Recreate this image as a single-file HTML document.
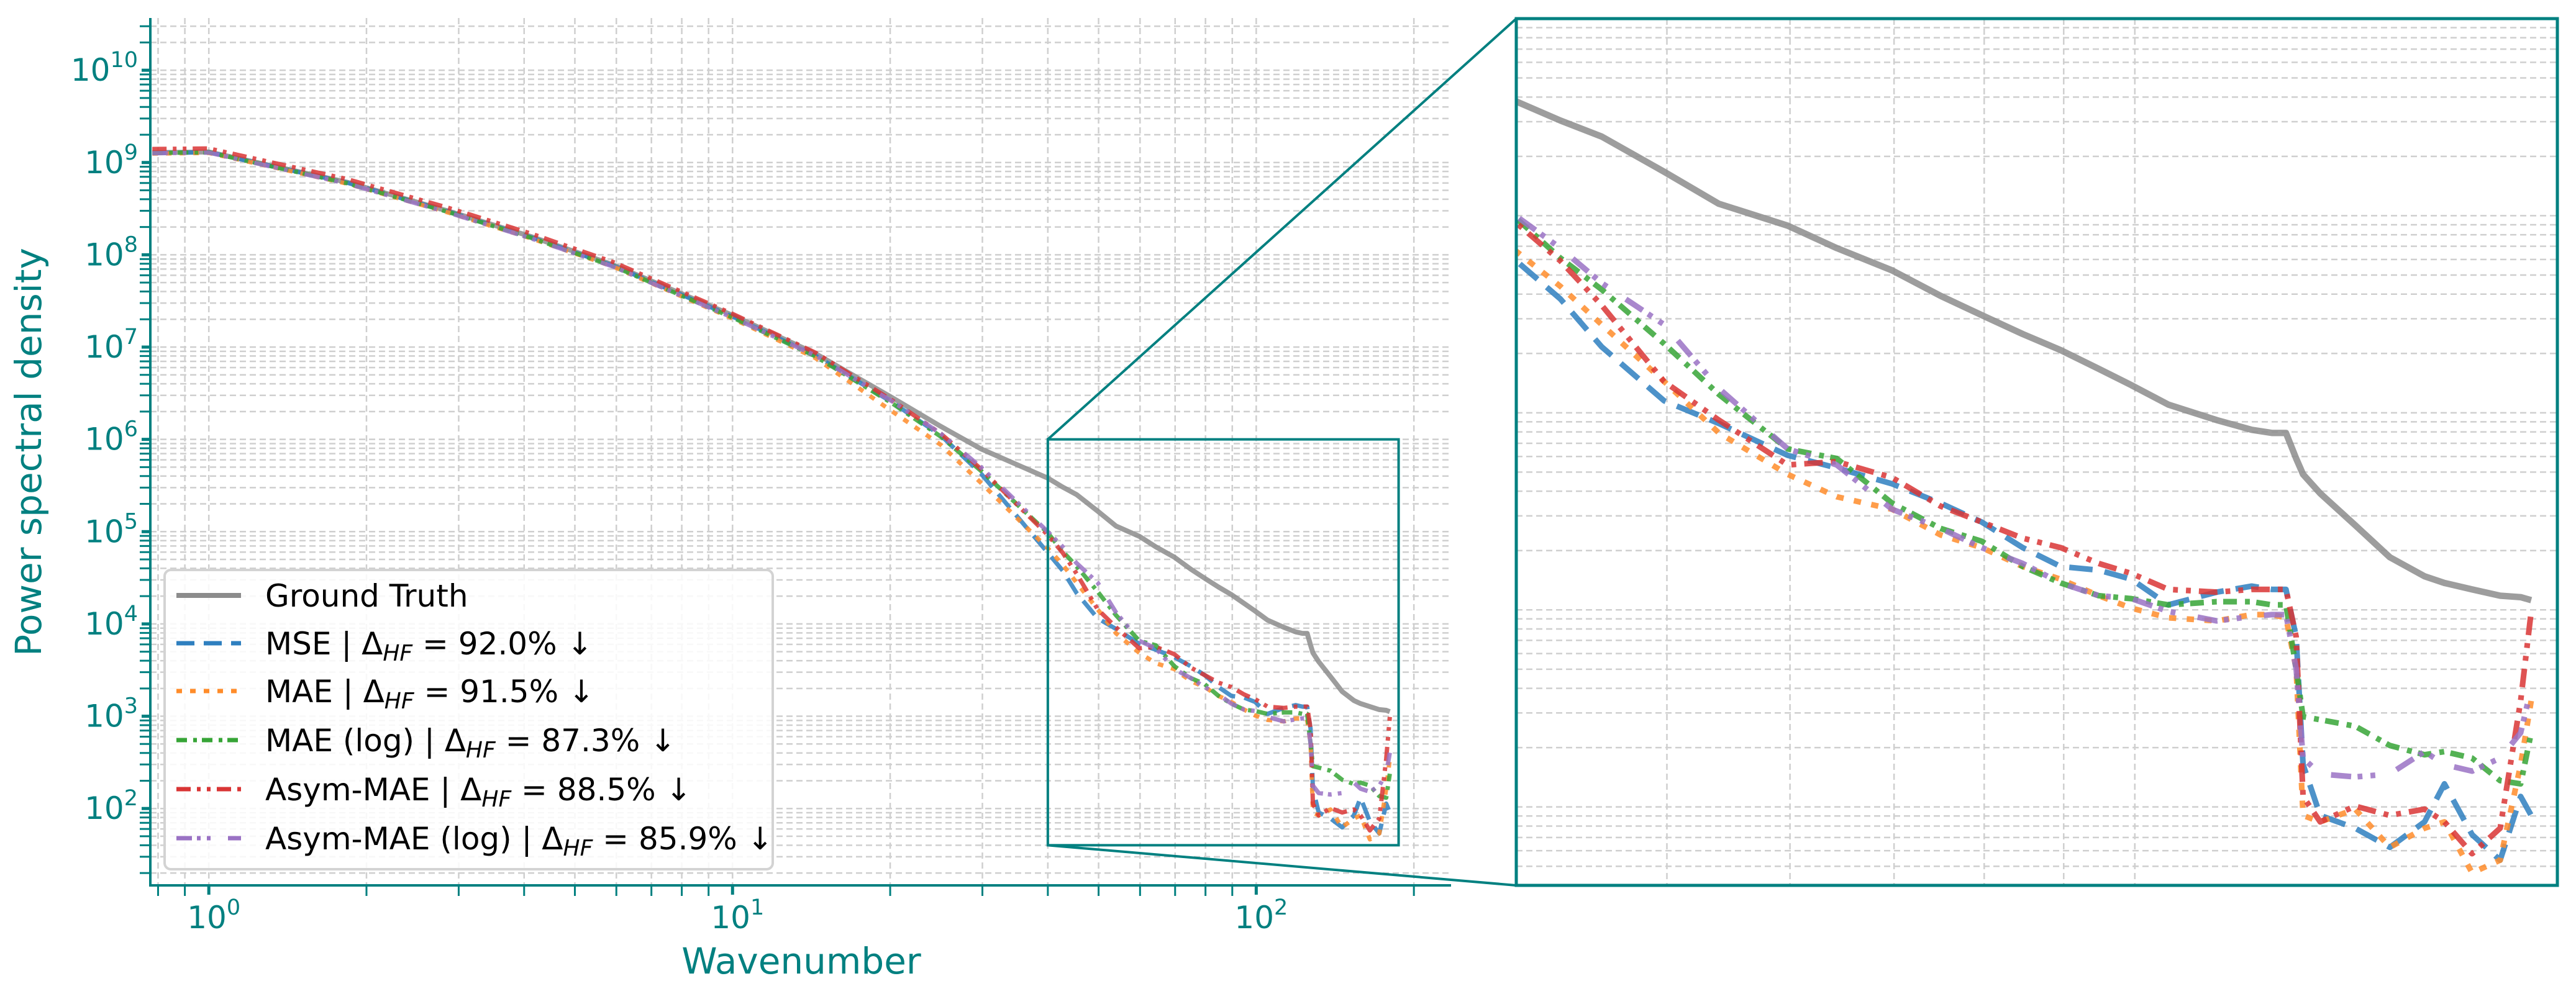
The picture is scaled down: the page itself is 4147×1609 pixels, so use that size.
<!DOCTYPE html>
<html><head><meta charset="utf-8">
<style>
html,body{margin:0;padding:0;background:#fff;}
svg{display:block;font-family:"DejaVu Sans","Liberation Sans",sans-serif;}
</style></head>
<body>
<svg id="chart" width="4147" height="1609" viewBox="0 0 4147 1609" xmlns="http://www.w3.org/2000/svg">
<defs>
<clipPath id="clipMain"><rect x="242" y="29" width="2094" height="1397"/></clipPath>
<clipPath id="clipInset"><rect x="2441" y="30" width="1676" height="1396"/></clipPath>
</defs>
<g id="gridMain"></g>
<g id="gridInset"></g>
<g id="linesMain" clip-path="url(#clipMain)"></g>
<g id="linesInset" clip-path="url(#clipInset)"></g>
<g id="axes"></g>
<g id="legend"></g>
<text x="1290" y="1568" font-size="58" fill="#008080" text-anchor="middle">Wavenumber</text>
<text x="0" y="0" font-size="58" fill="#008080" text-anchor="middle" transform="translate(66,728) rotate(-90)">Power spectral density</text>
</svg>
<script>
// ---- data ----
const wavenumbers = [0.78,1,1.84,2.86,4.12,5.93,10,14.4,20.2,25,29.8,
 40,42.7,45.4,49.8,54,59.8,64.3,69.8,75,79.7,84.7,89.6,94.8,99.5,105.1,112.9,118.9,122.5,125.1,127,128.3,131.6,138.6,145.9,153.6,158.2,164.8,171.8,177.1,179.9];
const groundTruth = [1.28e9,1.3e9,6.1e8,2.99e8,1.58e8,7.76e7,2.21e7,8.5e6,2.82e6,1.38e6,7.9e5,
 3.8e5,3.04e5,2.52e5,1.67e5,1.15e5,8.9e4,6.85e4,5.28e4,3.92e4,3.13e4,2.51e4,2.08e4,1.67e4,1.38e4,1.10e4,9.18e3,8.2e3,7.9e3,7.9e3,5.86e3,4.87e3,3.9e3,2.69e3,1.85e3,1.48e3,1.37e3,1.27e3,1.18e3,1.16e3,1.12e3];
const mseValues = [1.27e9,1.29e9,6.03e8,2.95e8,1.55e8,7.59e7,2.14e7,8.1e6,2.51e6,1.1e6,4.27e5,
 5.9e4,3.78e4,2.16e4,1.15e4,8.83e3,6.08e3,5.25e3,4.36e3,3.48e3,2.79e3,2.07e3,1.66e3,1.59e3,1.43e3,1.06e3,1.23e3,1.32e3,1.27e3,1.27e3,730,164,90.6,78,62.4,84,131,72.4,53.7,113,90.6];
const maeValues = [1.25e9,1.27e9,5.89e8,2.88e8,1.51e8,7.41e7,2.04e7,7.6e6,2.0e6,8.7e5,3.39e5,
 6.6e4,4.38e4,2.8e4,1.44e4,7.9e3,4.87e3,3.75e3,3.24e3,2.4e3,2.07e3,1.66e3,1.43e3,1.18e3,1.02e3,912,879,946,946,912,502,90.6,84,97.5,62.4,78,84,46.3,53.7,164,346];
const maeLogValues = [1.27e9,1.29e9,5.96e8,2.92e8,1.53e8,7.5e7,2.09e7,7.94e6,2.45e6,1.07e6,4.57e5,
 9.7e4,6.1e4,4.22e4,2.24e4,1.24e4,6.56e3,5.86e3,3.48e3,2.59e3,2.23e3,1.66e3,1.37e3,1.18e3,1.14e3,1.06e3,1.10e3,1.10e3,1.06e3,1.06e3,502,287,277,257,205,184,191,177,136,131,238];
const asymMaeValues = [1.4e9,1.42e9,6.6e8,3.24e8,1.7e8,8.3e7,2.29e7,8.7e6,2.63e6,1.15e6,4.79e5,
 9.2e4,5.9e4,3.51e4,1.44e4,9.18e3,5.44e3,5.65e3,4.69e3,3.36e3,2.79e3,2.31e3,2.07e3,1.72e3,1.53e3,1.27e3,1.23e3,1.27e3,1.27e3,1.27e3,730,113,84,101,90.6,97.5,84,57.9,78,346,982];
const asymMaeLogValues = [1.26e9,1.28e9,5.89e8,2.88e8,1.51e8,7.41e7,2.09e7,8.1e6,2.57e6,1.15e6,5.01e5,
 9.95e4,6.85e4,4.55e4,2.8e4,1.33e4,6.56e3,5.44e3,3.24e3,2.59e3,2.07e3,1.72e3,1.37e3,1.18e3,1.14e3,982,879,925,946,946,502,177,147,142,147,191,164,152,177,238,402];
const seriesLabels = ["Ground Truth","MSE","MAE","MAE (log)","Asym-MAE","Asym-MAE (log)"];
const deltaHF = ["","92.0%","91.5%","87.3%","88.5%","85.9%"];
const xTickExps = [0,1,2];
const yTickExps = [2,3,4,5,6,7,8,9,10];

const NS="http://www.w3.org/2000/svg";
function mk(tag,attrs,parent){const e=document.createElementNS(NS,tag);for(const k in attrs)e.setAttribute(k,attrs[k]);if(parent)parent.appendChild(e);return e;}
const L=Math.log10;
const M={x0:242,x1:2336,y0:29,y1:1426,lx0:-0.1117,lx1:2.372,ly0:1.167,ly1:10.566};
const I={x0:2441,x1:4117,y0:30,y1:1426,lx0:L(40),lx1:L(187),ly0:L(40),ly1:6};
function sx(a,v){return a.x0+(L(v)-a.lx0)/(a.lx1-a.lx0)*(a.x1-a.x0);}
function sy(a,v){return a.y1-(L(v)-a.ly0)/(a.ly1-a.ly0)*(a.y1-a.y0);}

const colors=["#8c8c8c","#2e7fbf","#ff8c2a","#36a436","#d93535","#9a72c4"];
const dashes=[null,[29,15],[9,13],[17,10,6,8],[23,10,6,10,6,10],[25,8,6,10,6,28]];
const seriesData=[groundTruth,mseValues,maeValues,maeLogValues,asymMaeValues,asymMaeLogValues];
const names=['ground-truth-line','mse-line','mae-line','mae-log-line','asym-mae-line','asym-mae-log-line'];

function grid(a,g){
  const gc="#cfcfcf";
  for(let e=Math.floor(a.ly0);e<=Math.ceil(a.ly1);e++){for(let m=1;m<10;m++){const v=m*Math.pow(10,e);const lv=L(v);if(lv<a.ly0||lv>a.ly1)continue;const y=sy(a,v);
    const ln=mk('line',{x1:a.x0,x2:a.x1,y1:y,y2:y,stroke:gc,'stroke-width':2.5,'stroke-dasharray':'10,6'},g);
    
    }}
  for(let e=Math.floor(a.lx0);e<=Math.ceil(a.lx1);e++){for(let m=1;m<10;m++){const v=m*Math.pow(10,e);const lv=L(v);if(lv<a.lx0||lv>a.lx1)continue;const x=sx(a,v);
    const ln=mk('line',{x1:x,x2:x,y1:a.y0,y2:a.y1,stroke:gc,'stroke-width':2.5,'stroke-dasharray':'10,6'},g);
    
    }}
}
grid(M,document.getElementById('gridMain'));
grid(I,document.getElementById('gridInset'));

function drawLines(a,g,scale){
  for(let s=0;s<seriesData.length;s++){
    let d='';
    for(let i=0;i<wavenumbers.length;i++){d+=(i?'L':'M')+sx(a,wavenumbers[i]).toFixed(1)+','+sy(a,seriesData[s][i]).toFixed(1);}
    const p=mk('path',{d:d,fill:'none',stroke:colors[s],'stroke-width':(s==0?8:7)*scale,'stroke-opacity':0.85,'stroke-linejoin':'round'},g);
    if(dashes[s])p.setAttribute('stroke-dasharray',dashes[s].map(v=>v*scale).join(','));
    
    
  }
}
drawLines(M,document.getElementById('linesMain'),1);
drawLines(I,document.getElementById('linesInset'),1.3);

const ax=document.getElementById('axes');
const teal="#008080";
let sp=mk('line',{x1:M.x0,x2:M.x0,y1:M.y0,y2:M.y1+2,stroke:teal,'stroke-width':4},ax);


sp=mk('line',{x1:M.x0-2,x2:M.x1,y1:M.y1,y2:M.y1,stroke:teal,'stroke-width':4},ax);


for(let e=1;e<=10;e++){for(let m=1;m<10;m++){const v=m*Math.pow(10,e);const lv=L(v);if(lv<M.ly0||lv>M.ly1)continue;const y=sy(M,v);
  const t=mk('line',{x1:M.x0,x2:M.x0-(m==1?14:17),y1:y,y2:y,stroke:teal,'stroke-width':m==1?5:3},ax);
  
  }}
for(const e of yTickExps){const y=sy(M,Math.pow(10,e));
  const t=mk('text',{x:222,y:y+17,'font-size':50,fill:teal,'text-anchor':'end'},ax);
  t.innerHTML='10<tspan dy="-22" font-size="35">'+e+'</tspan>';
  
  }
for(let e=-1;e<=2;e++){for(let m=1;m<10;m++){const v=m*Math.pow(10,e);const lv=L(v);if(lv<M.lx0||lv>M.lx1)continue;const x=sx(M,v);
  const t=mk('line',{x1:x,x2:x,y1:M.y1,y2:M.y1+(m==1?15:17),stroke:teal,'stroke-width':m==1?5:3},ax);
  
  }}
for(const e of xTickExps){const x=sx(M,Math.pow(10,e));
  const t=mk('text',{x:x+8,y:1495,'font-size':50,fill:teal,'text-anchor':'middle'},ax);
  t.innerHTML='10<tspan dy="-22" font-size="35">'+e+'</tspan>';
  
  }
const bx0=sx(M,40),bx1=sx(M,187),by0=sy(M,1e6),by1=sy(M,40);
let zr=mk('rect',{x:bx0,y:by0,width:bx1-bx0,height:by1-by0,fill:'none',stroke:teal,'stroke-width':4},ax);


let c1=mk('line',{x1:bx0,y1:by0,x2:I.x0,y2:I.y0,stroke:teal,'stroke-width':4},ax);


let c2=mk('line',{x1:bx0,y1:by1,x2:I.x0,y2:I.y1,stroke:teal,'stroke-width':4},ax);


let ir=mk('rect',{x:I.x0,y:I.y0,width:I.x1-I.x0,height:I.y1-I.y0,fill:'none',stroke:teal,'stroke-width':5},ax);



const lg=document.getElementById('legend');
let lb=mk('rect',{x:265,y:918,width:979,height:482,rx:10,fill:'#ffffff','fill-opacity':0.85,stroke:'#d3d3d3','stroke-width':4},lg);


const rows=[959,1036,1113,1192,1271,1350];
for(let s=0;s<6;s++){
  const y=rows[s];
  const ln=mk('line',{x1:284,x2:388,y1:y,y2:y,stroke:colors[s],'stroke-width':s==0?8:7},lg);
  if(dashes[s])ln.setAttribute('stroke-dasharray',dashes[s].join(','));
  
  
  const t=mk('text',{x:427,y:y+18,'font-size':50,fill:'#000'},lg);
  if(s==0)t.textContent=seriesLabels[s];
  else t.innerHTML=seriesLabels[s]+' | Δ<tspan font-style="italic" font-size="36" dy="10">HF</tspan><tspan dy="-10"> = '+deltaHF[s]+' ↓</tspan>';
  
  
}
</script>
</body></html>
